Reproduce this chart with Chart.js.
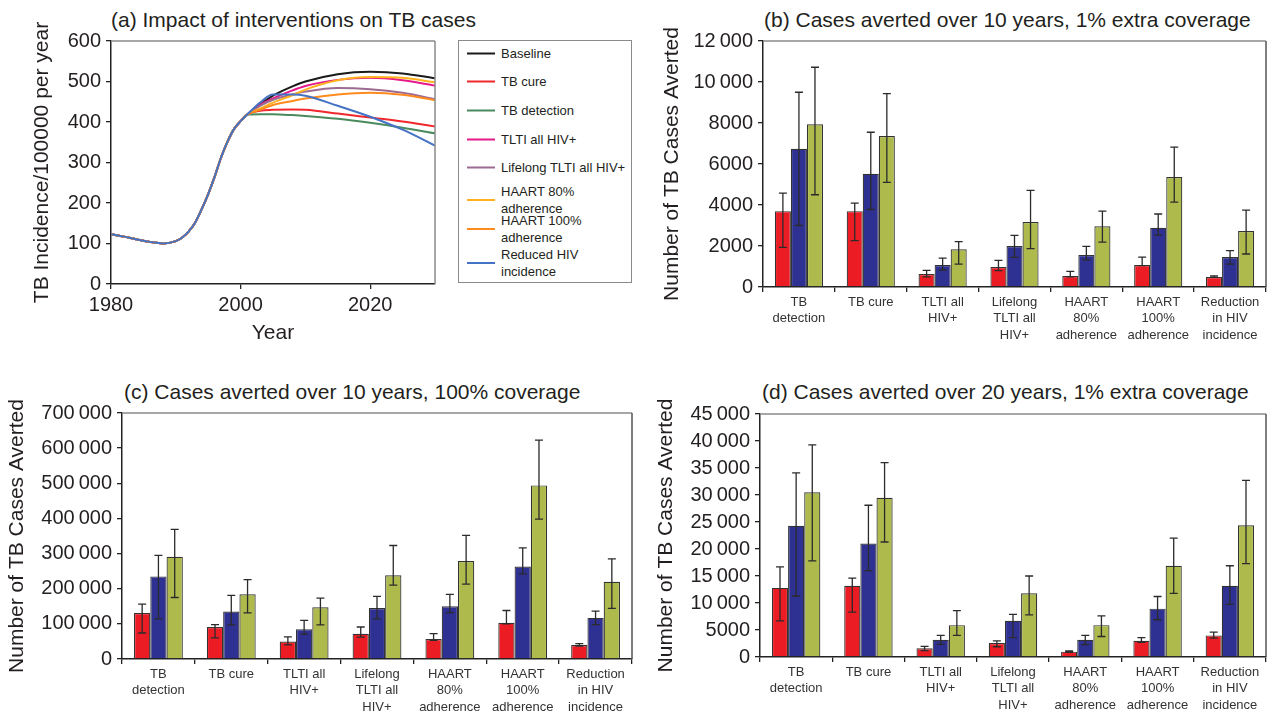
<!DOCTYPE html>
<html>
<head>
<meta charset="utf-8">
<script src="https://cdn.jsdelivr.net/npm/chart.js@4.4.0/dist/chart.umd.min.js"></script>
<style>
  body { margin: 0; background: #fff; width: 1269px; height: 713px; overflow: hidden; position: relative;
         font-family: "Liberation Sans", Arial, sans-serif; }
  canvas { position: absolute; }
  .title { position: absolute; font-size: 21px; line-height: 24px; color: #231f20; white-space: nowrap; }
  #legend { position: absolute; left: 458px; top: 40px; width: 174px; height: 243px;
            border: 1px solid #8a8a8a; box-sizing: border-box; }
  .item { position: absolute; left: 0; width: 172px; display: flex; align-items: center; transform: translateY(-50%); }
  .swatch { width: 28px; height: 2px; margin-left: 8px; margin-right: 6px; flex: none; }
  .txt { width: 126px; font-size: 13px; line-height: 17px; color: #231f20; }
</style>
</head>
<body>
<div class="title" style="left:111px; top:8px;">(a) Impact of interventions on TB cases</div>
<div class="title" style="left:764px; top:8px;">(b) Cases averted over 10 years, 1% extra coverage</div>
<div class="title" style="left:124px; top:380px;">(c) Cases averted over 10 years, 100% coverage</div>
<div class="title" style="left:762px; top:380px;">(d) Cases averted over 20 years, 1% extra coverage</div>

<canvas id="chartA" width="450" height="350" style="left:0; top:0;"></canvas>
<div id="legend"></div>
<canvas id="chartB" width="629" height="365" style="left:640px; top:0;"></canvas>
<canvas id="chartC" width="640" height="343" style="left:0; top:370px;"></canvas>
<canvas id="chartD" width="629" height="343" style="left:640px; top:370px;"></canvas>

<script>
// ---- panel (a): TB incidence per 100000 per year ----
const earlyYears = [1980, 1982, 1984, 1986, 1988, 1990, 1991, 1992, 1993, 1994, 1995, 1996, 1997, 1998, 1999, 2000, 2001];
const earlyValues = [123, 117, 110, 104, 100, 106, 115, 130, 152, 185, 222, 265, 313, 352, 383, 402, 418];
const laterYears = [2003, 2005, 2008, 2010, 2015, 2020, 2025, 2030];
const baseline = [443, 465, 488, 500, 518, 524, 520, 508];
const tbCure = [428, 430, 431, 430, 421, 411, 401, 389];
const tbDetection = [419, 419, 417, 415, 408, 398, 386, 372];
const tltiAll = [442, 458, 478, 489, 504, 509, 503, 490];
const lifelongTlti = [440, 455, 468, 475, 484, 481, 472, 456];
const haart80 = [433, 448, 466, 480, 503, 511, 509, 498];
const haart100 = [430, 442, 452, 458, 468, 472, 467, 454];
const reducedHiv = [448, 468, 468, 465, 440, 413, 381, 342];

const seriesNames = ['Baseline', 'TB cure', 'TB detection', 'TLTI all HIV+', 'Lifelong TLTI all HIV+',
                     'HAART 80% adherence', 'HAART 100% adherence', 'Reduced HIV incidence'];
const seriesValues = [baseline, tbCure, tbDetection, tltiAll, lifelongTlti, haart80, haart100, reducedHiv];
const seriesColors = ['#1a1a1a', '#f0282d', '#4a8a5c', '#e6198a', '#9d6a92', '#ffb21e', '#ff8a1e', '#4472c4'];

// ---- panels (b)-(d): cases averted ----
const categories = [['TB', 'detection'], 'TB cure', ['TLTI all', 'HIV+'], ['Lifelong', 'TLTI all', 'HIV+'],
                    ['HAART', '80%', 'adherence'], ['HAART', '100%', 'adherence'], ['Reduction', 'in HIV', 'incidence']];

// (b) 10 years, 1% extra coverage
const bRed = [3700, 3700, 630, 970, 540, 1070, 490];
const bRedLo = [1930, 2260, 490, 800, 490, 1040, 470];
const bRedHi = [4580, 4090, 810, 1300, 760, 1460, 540];
const bBlue = [6740, 5520, 1070, 2000, 1560, 2890, 1460];
const bBlueLo = [3000, 3780, 830, 1450, 1320, 2530, 1120];
const bBlueHi = [9500, 7550, 1410, 2520, 1980, 3560, 1770];
const bGreen = [7940, 7360, 1840, 3170, 2960, 5360, 2730];
const bGreenLo = [4500, 5100, 1120, 1870, 2190, 4140, 1610];
const bGreenHi = [10720, 9430, 2210, 4710, 3700, 6820, 3750];

// (c) 10 years, 100% coverage
const cRed = [131000, 91000, 50000, 72000, 57000, 103000, 40000];
const cRedLo = [74000, 60000, 40000, 62000, 53000, 100000, 37000];
const cRedHi = [156000, 98000, 63000, 91000, 72000, 138000, 44000];
const cBlue = [235000, 135000, 85000, 145000, 150000, 263000, 117000];
const cBlueLo = [114000, 97000, 71000, 114000, 132000, 242000, 98000];
const cBlueHi = [295000, 181000, 110000, 178000, 184000, 316000, 136000];
const cGreen = [291000, 184000, 147000, 238000, 279000, 494000, 220000];
const cGreenLo = [175000, 131000, 97000, 210000, 213000, 398000, 144000];
const cGreenHi = [369000, 226000, 173000, 323000, 352000, 623000, 285000];

// (d) 20 years, 1% extra coverage
const dRed = [12800, 13200, 1600, 2600, 990, 3000, 4000];
const dRedLo = [6700, 8300, 1170, 1900, 860, 2700, 3500];
const dRedHi = [16700, 14600, 1980, 3000, 1110, 3600, 4600];
const dBlue = [24300, 21000, 3200, 6700, 3200, 8950, 13200];
const dBlueLo = [11300, 16000, 2350, 3600, 2300, 6900, 9750];
const dBlueHi = [34100, 28100, 4000, 7900, 4000, 11200, 16900];
const dGreen = [30500, 29500, 5900, 11800, 5900, 16900, 24400];
const dGreenLo = [17800, 21300, 4000, 7800, 3800, 11800, 17300];
const dGreenHi = [39300, 36000, 8600, 15000, 7600, 22000, 32700];

const FONT = '"Liberation Sans", Arial, sans-serif';
const INK = '#231f20';

// top/right frame of the plot area
const framePlugin = {
  id: 'frame',
  afterDraw(chart, args, opts) {
    const { ctx, chartArea: { left, top, right, bottom } } = chart;
    ctx.save();
    ctx.lineWidth = 1.5;
    ctx.strokeStyle = opts.top || '#8a8a8a';
    ctx.beginPath(); ctx.moveTo(left, top); ctx.lineTo(right, top); ctx.stroke();
    ctx.strokeStyle = opts.right || '#555';
    ctx.beginPath(); ctx.moveTo(right, top); ctx.lineTo(right, bottom); ctx.stroke();
    ctx.restore();
  }
};

// asymmetric error bars on each bar
const errorBarPlugin = {
  id: 'errorBars',
  afterDatasetsDraw(chart) {
    const ctx = chart.ctx, yScale = chart.scales.y;
    chart.data.datasets.forEach((ds, i) => {
      chart.getDatasetMeta(i).data.forEach((bar, j) => {
        const yTop = yScale.getPixelForValue(ds.errHi[j]);
        const yBot = yScale.getPixelForValue(ds.errLo[j]);
        ctx.save();
        ctx.strokeStyle = '#2b2b2b';
        ctx.lineWidth = 1.3;
        ctx.beginPath();
        ctx.moveTo(bar.x, yTop); ctx.lineTo(bar.x, yBot);
        ctx.moveTo(bar.x - 4, yTop); ctx.lineTo(bar.x + 4, yTop);
        ctx.moveTo(bar.x - 4, yBot); ctx.lineTo(bar.x + 4, yBot);
        ctx.stroke();
        ctx.restore();
      });
    });
  }
};

function fmtNum(v) {
  return v >= 10000 ? v.toLocaleString('en-US').replace(/,/g, '\u2009') : String(v);
}

// ---- chart (a) ----
function buildPoints(later) {
  const pts = earlyYears.map((yr, i) => ({ x: yr, y: earlyValues[i] }));
  return pts.concat(laterYears.map((yr, i) => ({ x: yr, y: later[i] })));
}

new Chart(document.getElementById('chartA'), {
  type: 'line',
  data: {
    datasets: seriesNames.map((name, i) => ({
      label: name,
      data: buildPoints(seriesValues[i]),
      borderColor: seriesColors[i],
      borderWidth: 2,
      pointRadius: 0,
      cubicInterpolationMode: 'monotone',
      order: seriesNames.length - i
    }))
  },
  options: {
    responsive: false,
    animation: false,
    layout: { padding: { top: 41, right: 15, left: 0, bottom: 0 } },
    plugins: { legend: { display: false }, tooltip: { enabled: false }, frame: { top: '#8a8a8a', right: '#8a8a8a' } },
    scales: {
      x: {
        type: 'linear', min: 1980, max: 2030,
        afterBuildTicks: s => { s.ticks = [1980, 2000, 2020].map(v => ({ value: v })); },
        afterFit: s => { s.height = 66; },
        ticks: { padding: 4, color: INK, font: { family: FONT, size: 20 }, callback: v => String(v) },
        grid: { drawOnChartArea: false, tickLength: 5, color: '#222', lineWidth: 1.3 },
        border: { color: '#222', width: 1.5 },
        title: { display: true, text: 'Year', color: INK, font: { family: FONT, size: 21 }, padding: { top: 0, bottom: 4 } }
      },
      y: {
        min: 0, max: 600,
        afterFit: s => { s.width = 111; },
        ticks: { stepSize: 100, padding: 5, color: INK, font: { family: FONT, size: 20 } },
        grid: { drawOnChartArea: false, tickLength: 5, color: '#222', lineWidth: 1.3 },
        border: { color: '#222', width: 1.5 },
        title: { display: true, text: 'TB Incidence/100000 per year', color: INK,
                 font: { family: FONT, size: 21 }, padding: { top: 30, bottom: 0 } }
      }
    }
  },
  plugins: [framePlugin]
});

// legend for (a)
const legendRows = [52, 80, 109, 138, 166, 199, 228, 262];
const legendEl = document.getElementById('legend');
seriesNames.forEach((name, i) => {
  const row = document.createElement('div');
  row.className = 'item';
  row.style.top = (legendRows[i] - 40) + 'px';
  row.innerHTML = '<span class="swatch" style="background:' + seriesColors[i] + '"></span><span class="txt">' + name + '</span>';
  legendEl.appendChild(row);
});

// ---- bar charts ----
function barChart(id, red, redLo, redHi, blue, blueLo, blueHi, green, greenLo, greenHi, geo) {
  new Chart(document.getElementById(id), {
    type: 'bar',
    data: {
      labels: categories,
      datasets: [
        { label: 'Low', data: red, errLo: redLo, errHi: redHi, backgroundColor: '#ec1c24' },
        { label: 'Mid', data: blue, errLo: blueLo, errHi: blueHi, backgroundColor: '#2e3192' },
        { label: 'High', data: green, errLo: greenLo, errHi: greenHi, backgroundColor: '#aebb4c' }
      ].map(ds => Object.assign(ds, { borderColor: '#333', borderWidth: 1.2, categoryPercentage: 0.67, barPercentage: 1 }))
    },
    options: {
      responsive: false,
      animation: false,
      layout: { padding: { top: geo.top, right: geo.right, left: 0, bottom: 0 } },
      plugins: { legend: { display: false }, tooltip: { enabled: false }, frame: { top: '#8a8a8a', right: '#555' } },
      scales: {
        x: {
          afterFit: s => { s.height = geo.xh; },
          ticks: { autoSkip: false, maxRotation: 0, minRotation: 0, padding: 2, color: '#333',
                   font: { family: FONT, size: 13, lineHeight: 1.27 } },
          grid: { drawOnChartArea: false, tickLength: 5, color: '#222', lineWidth: 1.3, offset: true },
          border: { color: '#222', width: 1.5 }
        },
        y: {
          min: 0, max: geo.max,
          afterFit: s => { s.width = geo.yw; },
          ticks: { stepSize: geo.step, padding: 5, color: INK, font: { family: FONT, size: 20 }, callback: fmtNum },
          grid: { drawOnChartArea: false, tickLength: 5, color: '#222', lineWidth: 1.3 },
          border: { color: '#222', width: 1.5 },
          title: { display: true, text: 'Number of TB Cases Averted', color: INK,
                   font: { family: FONT, size: 21 }, padding: { top: geo.tp, bottom: 0 } }
        }
      }
    },
    plugins: [framePlugin, errorBarPlugin]
  });
}

barChart('chartB', bRed, bRedLo, bRedHi, bBlue, bBlueLo, bBlueHi, bGreen, bGreenLo, bGreenHi,
         { top: 41, right: 3, xh: 78, yw: 123, max: 12000, step: 2000, tp: 20 });
barChart('chartC', cRed, cRedLo, cRedHi, cBlue, cBlueLo, cBlueHi, cGreen, cGreenLo, cGreenHi,
         { top: 43, right: 8, xh: 54, yw: 122, max: 700000, step: 100000, tp: 5 });
barChart('chartD', dRed, dRedLo, dRedHi, dBlue, dBlueLo, dBlueHi, dGreen, dGreenLo, dGreenHi,
         { top: 44, right: 3, xh: 56, yw: 120, max: 45000, step: 5000, tp: 14 });
</script>
</body>
</html>
